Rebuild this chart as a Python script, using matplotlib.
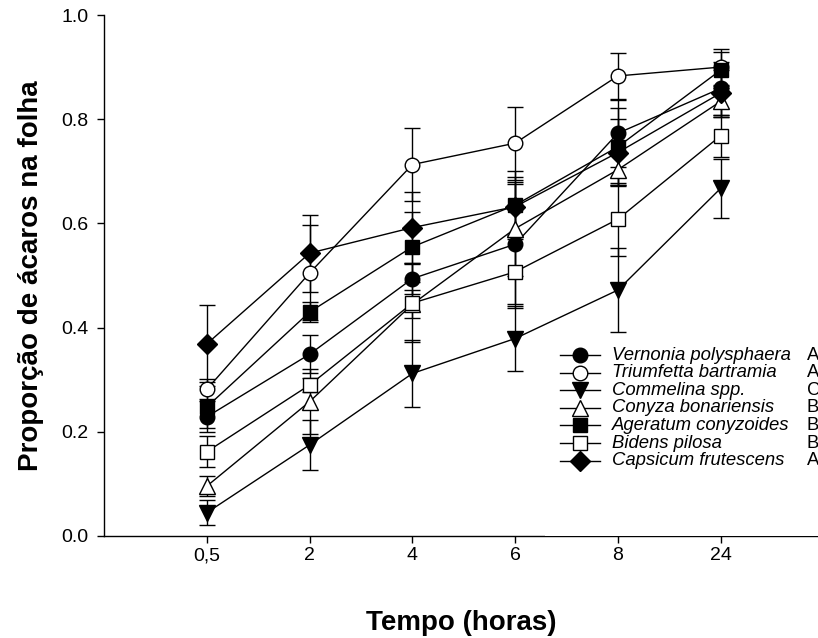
import numpy as np
import matplotlib
matplotlib.use("Agg")
import matplotlib.pyplot as plt
from matplotlib.lines import Line2D
from matplotlib.patches import Rectangle

plt.rcParams['font.family'] = ['Liberation Sans', 'DejaVu Sans']

# tempos (horas) e proporcao de acaros na folha
tempos = ['0,5', '2', '4', '6', '8', '24']

especies = ['Vernonia polysphaera', 'Triumfetta bartramia', 'Commelina spp.',
            'Conyza bonariensis', 'Ageratum conyzoides', 'Bidens pilosa',
            'Capsicum frutescens']
letras = ['A', 'A', 'C', 'B', 'B', 'B', 'A']

vernonia = [0.229, 0.349, 0.494, 0.560, 0.773, 0.859]
triumfetta = [0.282, 0.505, 0.713, 0.754, 0.883, 0.900]
commelina = [0.045, 0.175, 0.312, 0.379, 0.472, 0.667]
conyza = [0.096, 0.258, 0.445, 0.590, 0.703, 0.834]
ageratum = [0.248, 0.430, 0.555, 0.635, 0.747, 0.894]
bidens = [0.162, 0.290, 0.447, 0.507, 0.608, 0.768]
capsicum = [0.369, 0.543, 0.592, 0.632, 0.736, 0.850]

vernonia_se = [0.030, 0.036, 0.030, 0.115, 0.064, 0.050]
triumfetta_se = [0.020, 0.091, 0.070, 0.070, 0.045, 0.034]
commelina_se = [0.024, 0.048, 0.064, 0.062, 0.080, 0.056]
conyza_se = [0.020, 0.063, 0.027, 0.090, 0.030, 0.030]
ageratum_se = [0.040, 0.020, 0.067, 0.065, 0.074, 0.035]
bidens_se = [0.030, 0.013, 0.075, 0.070, 0.070, 0.040]
capsicum_se = [0.074, 0.074, 0.068, 0.058, 0.064, 0.045]

medias = [vernonia, triumfetta, commelina, conyza, ageratum, bidens, capsicum]
erros = [vernonia_se, triumfetta_se, commelina_se, conyza_se, ageratum_se,
         bidens_se, capsicum_se]
marcadores = ['o', 'o', 'v', '^', 's', 's', 'D']
preenchimento = ['k', 'w', 'k', 'w', 'k', 'w', 'k']
tamanhos = [10.5, 10.5, 11.5, 11.5, 10.5, 10.5, 10]

W, H = 818, 638
fig = plt.figure(figsize=(W / 100, H / 100), dpi=100)

def fx(x):
    return x / W

def fy(y):
    return 1 - y / H

# eixo: de x=104 a 818 px, y de 15 a 536 px
ax = fig.add_axes([fx(104), fy(536), fx(818) - fx(104), fy(15) - fy(536)])

x = np.arange(len(tempos))
for i in range(len(especies)):
    ax.errorbar(x, medias[i], yerr=erros[i], color='k', lw=1.0,
                marker=marcadores[i], ms=tamanhos[i], mfc=preenchimento[i],
                mec='k', mew=1.0, capsize=5.5, capthick=1.0, elinewidth=1.0,
                zorder=3)

ax.set_xlim((104 - 207) / 102.7, (818 - 207) / 102.7)
ax.set_ylim(0, 1.0)
ax.set_xticks(x)
ax.set_xticklabels(tempos)
ax.set_yticks(np.arange(0, 1.01, 0.2))
ax.set_yticklabels([f'{v:.1f}' for v in np.arange(0, 1.01, 0.2)])
ax.tick_params(direction='out', length=5, width=1.0, labelsize=14)
ax.tick_params(axis='y', pad=6)
ax.tick_params(axis='x', pad=3)
ax.spines['top'].set_visible(False)
ax.spines['right'].set_visible(False)
for s in ['left', 'bottom']:
    ax.spines[s].set_linewidth(1.0)

ax.set_xlabel('Tempo (horas)', fontsize=20, fontweight='bold')
ax.set_ylabel('Proporção de ácaros na folha', fontsize=20, fontweight='bold')
ax.xaxis.set_label_coords(0.5, -0.142)
ax.yaxis.set_label_coords(-0.084, 0.5)

# legenda desenhada a mao, com fundo branco
fig.patches.append(Rectangle((fx(545), fy(536.4)), fx(818) - fx(545),
                             fy(343) - fy(536.4), transform=fig.transFigure,
                             facecolor='white', edgecolor='none', zorder=5))
for i in range(len(especies)):
    yy = fy(355 + 17.6 * i)
    fig.lines.append(Line2D([fx(560), fx(600)], [yy, yy], color='k', lw=1.0,
                            transform=fig.transFigure, zorder=6))
    fig.lines.append(Line2D([fx(580)], [yy], marker=marcadores[i],
                            ms=tamanhos[i], mfc=preenchimento[i], mec='k',
                            mew=1.0, transform=fig.transFigure, zorder=7))
    fig.text(fx(612), yy, especies[i], fontsize=13.3, style='italic',
             va='center', ha='left', zorder=7)
    fig.text(fx(807), yy, letras[i], fontsize=13.3, va='center', ha='left',
             zorder=7)

fig.savefig('out.png', dpi=100)
